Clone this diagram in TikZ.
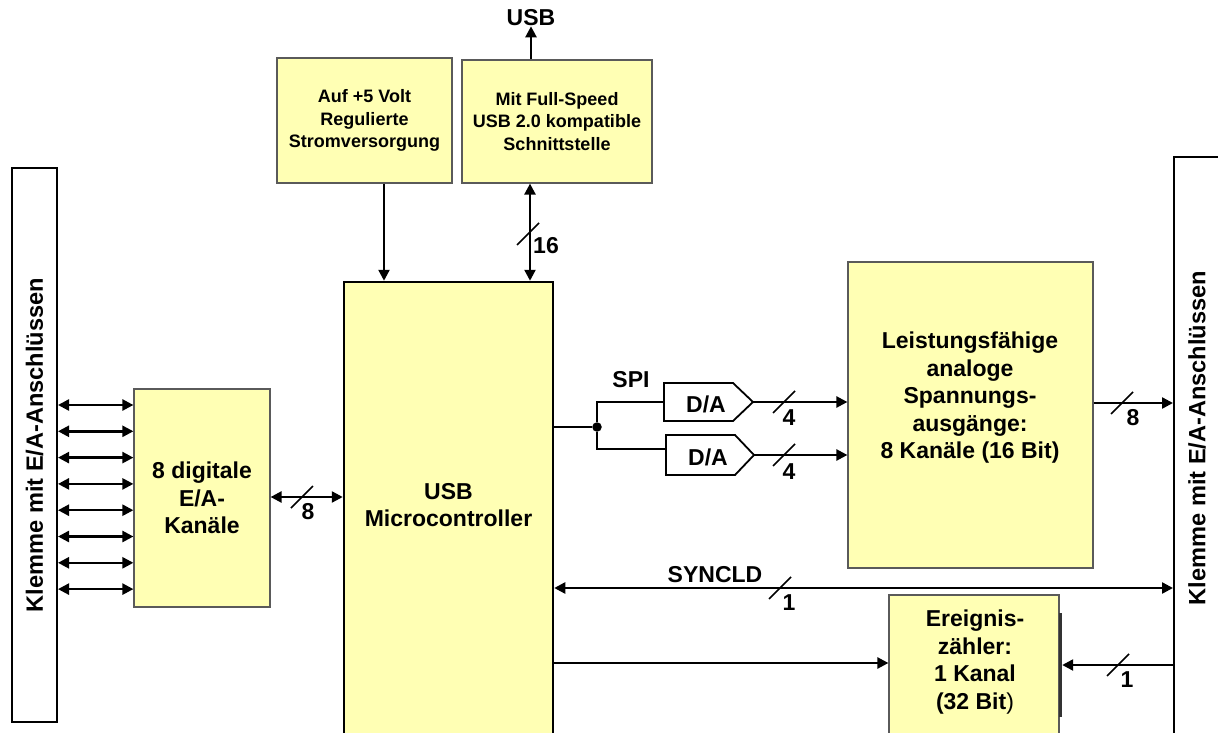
\documentclass[tikz,border=0pt]{standalone}
\usepackage{fontspec}
\setmainfont{Liberation Sans}
\usetikzlibrary{arrows.meta,calc}

\definecolor{boxfill}{RGB}{255,255,180}
\definecolor{boxline}{RGB}{90,90,90}
\newcommand{\bigfont}{\bfseries\fontsize{23}{27.5}\selectfont}
\newcommand{\smallfont}{\bfseries\fontsize{18}{22.5}\selectfont}
\newcommand{\termfont}{\bfseries\fontsize{23.6}{28}\selectfont}

\tikzset{
  box/.style={draw=boxline,line width=1.2pt,fill=boxfill,inner sep=0pt,align=center,font=\bigfont},
  term/.style={draw=black,line width=2pt,fill=white,inner sep=0pt,font=\termfont},
  txt/.style={inner sep=0pt,align=center,font=\bigfont},
  bustxt/.style={inner sep=0pt,font=\bigfont},
  wire/.style={line width=2.4pt},
  sig/.style={line width=2.4pt,-{Triangle[length=11pt,width=11pt]}},
  dsig/.style={line width=2.4pt,{Triangle[length=11pt,width=11pt]}-{Triangle[length=11pt,width=11pt]}},
  slash/.style={line width=1.7pt},
  dabox/.style={draw=black,line width=1.8pt,fill=white},
  dot/.style={circle,fill=black,inner sep=0pt,minimum size=9.5pt}
}
% bus width mark: name, slash centre, label position, text
\newcommand{\busmark}[4]{%
  \draw[slash] (#2) ++(-11,11) -- ++(22,-22);
  \node[bustxt] (#1) at (#3) {#4};}

\begin{document}
\begin{tikzpicture}[x=1pt,y=-1pt]
  \useasboundingbox (0,0) rectangle (1218,733);

  % terminals
  \node[term,minimum width=45,minimum height=554] (lterm) at (34.5,445) {\rotatebox{90}{Klemme mit E/A-Anschl\"ussen}};
  \node[term,minimum width=48,minimum height=620] (rterm) at (1198,467) {};
  \node[txt,font=\termfont] (rtermtxt) at (1197,438) {\rotatebox{90}{Klemme mit E/A-Anschl\"ussen}};

  % blocks
  \node[box,minimum width=136,minimum height=218] (dig) at (202,498) {8 digitale\\E/A-\\Kan\"ale};
  \node[box,draw=black,line width=2.5pt,minimum width=209,minimum height=470] (uc) at (448.5,517) {};
  \node[txt] (uctxt) at (448.5,505) {USB\\Microcontroller};
  \node[box,font=\smallfont,minimum width=175,minimum height=125] (pwr) at (364.5,120.5) {Auf +5 Volt\\Regulierte\\Stromversorgung};
  \node[box,font=\smallfont,minimum width=190,minimum height=123] (usbif) at (557,121.5) {Mit Full-Speed\\USB 2.0 kompatible\\Schnittstelle};
  \node[txt] (usb) at (531,18) {USB};
  \node[box,minimum width=245,minimum height=306] (ana) at (970.5,415) {};
  \node[txt] (anatxt) at (970,398) {Leistungsf\"ahige\\analoge\\Spannungs-\\ausg\"ange:\\8 Kan\"ale (16 Bit)};
  \node[box,minimum width=170,minimum height=160] (cnt) at (974,675) {};
  \node[txt] (cnttxt) at (975,662) {Ereignis-\\z\"ahler:\\1 Kanal\\(32 Bit\textmd{)}};
  \node[fill=black!80,inner sep=0pt,minimum width=3,minimum height=104] (cntbar) at (1060.5,665) {};

  % D/A converters
  \draw[dabox] (664,383) -- (733,383) -- (753,402) -- (733,421) -- (664,421) -- cycle;
  \node[txt] (da1) at (706,404) {D/A};
  \coordinate (da1in) at (664,402);
  \coordinate (da1out) at (753,402);
  \draw[dabox] (666,435) -- (735,435) -- (754,455) -- (735,475) -- (666,475) -- cycle;
  \node[txt] (da2) at (708,457) {D/A};
  \coordinate (da2in) at (666,449);
  \coordinate (da2out) at (754,455);

  \node[dot] (spi) at (597,427) {};
  \node[txt] (spitxt) at (631,380) {SPI};
  \draw[wire] (uc.east |- spi) -- (spi);
  \draw[wire] (spi) |- (da1in);
  \draw[wire] (spi) |- (da2in);

  % connections
  \foreach \i [evaluate=\i as \y using 405+26.3*\i] in {0,...,7}
    \draw[dsig] (lterm.east |- 0,\y) -- (dig.west |- 0,\y);

  \draw[dsig] (dig.east |- 0,497) -- (uc.west |- 0,497);
  \busmark{b8d}{302,497}{308,512}{8}

  \draw[sig] (pwr.south -| 384,0) -- (uc.north -| 384,0);
  \draw[dsig] (usbif.south -| 530,0) -- (uc.north -| 530,0);
  \busmark{b16}{528,234}{546,246}{16}
  \draw[sig] (usbif.north -| usb) -- (usb.south);

  \draw[sig] (da1out) -- (ana.west |- da1out);
  \busmark{b4a}{784,402}{789,418}{4}
  \draw[sig] (da2out) -- (ana.west |- da2out);
  \busmark{b4b}{784,455}{789,472}{4}

  \draw[sig] (ana.east |- 0,403) -- (rterm.west |- 0,403);
  \busmark{b8a}{1122,403}{1133,418}{8}

  \draw[dsig] (uc.east |- 0,588) -- (rterm.west |- 0,588);
  \node[txt] (synctxt) at (715,575) {SYNCLD};
  \busmark{b1s}{780,588}{789,603}{1}

  \draw[sig] (uc.east |- 0,663) -- (cnt.west |- 0,663);
  \draw[sig] (rterm.west |- cntbar) -- (cntbar.east);
  \busmark{b1c}{1118,665}{1127,680}{1}
\end{tikzpicture}
\end{document}
